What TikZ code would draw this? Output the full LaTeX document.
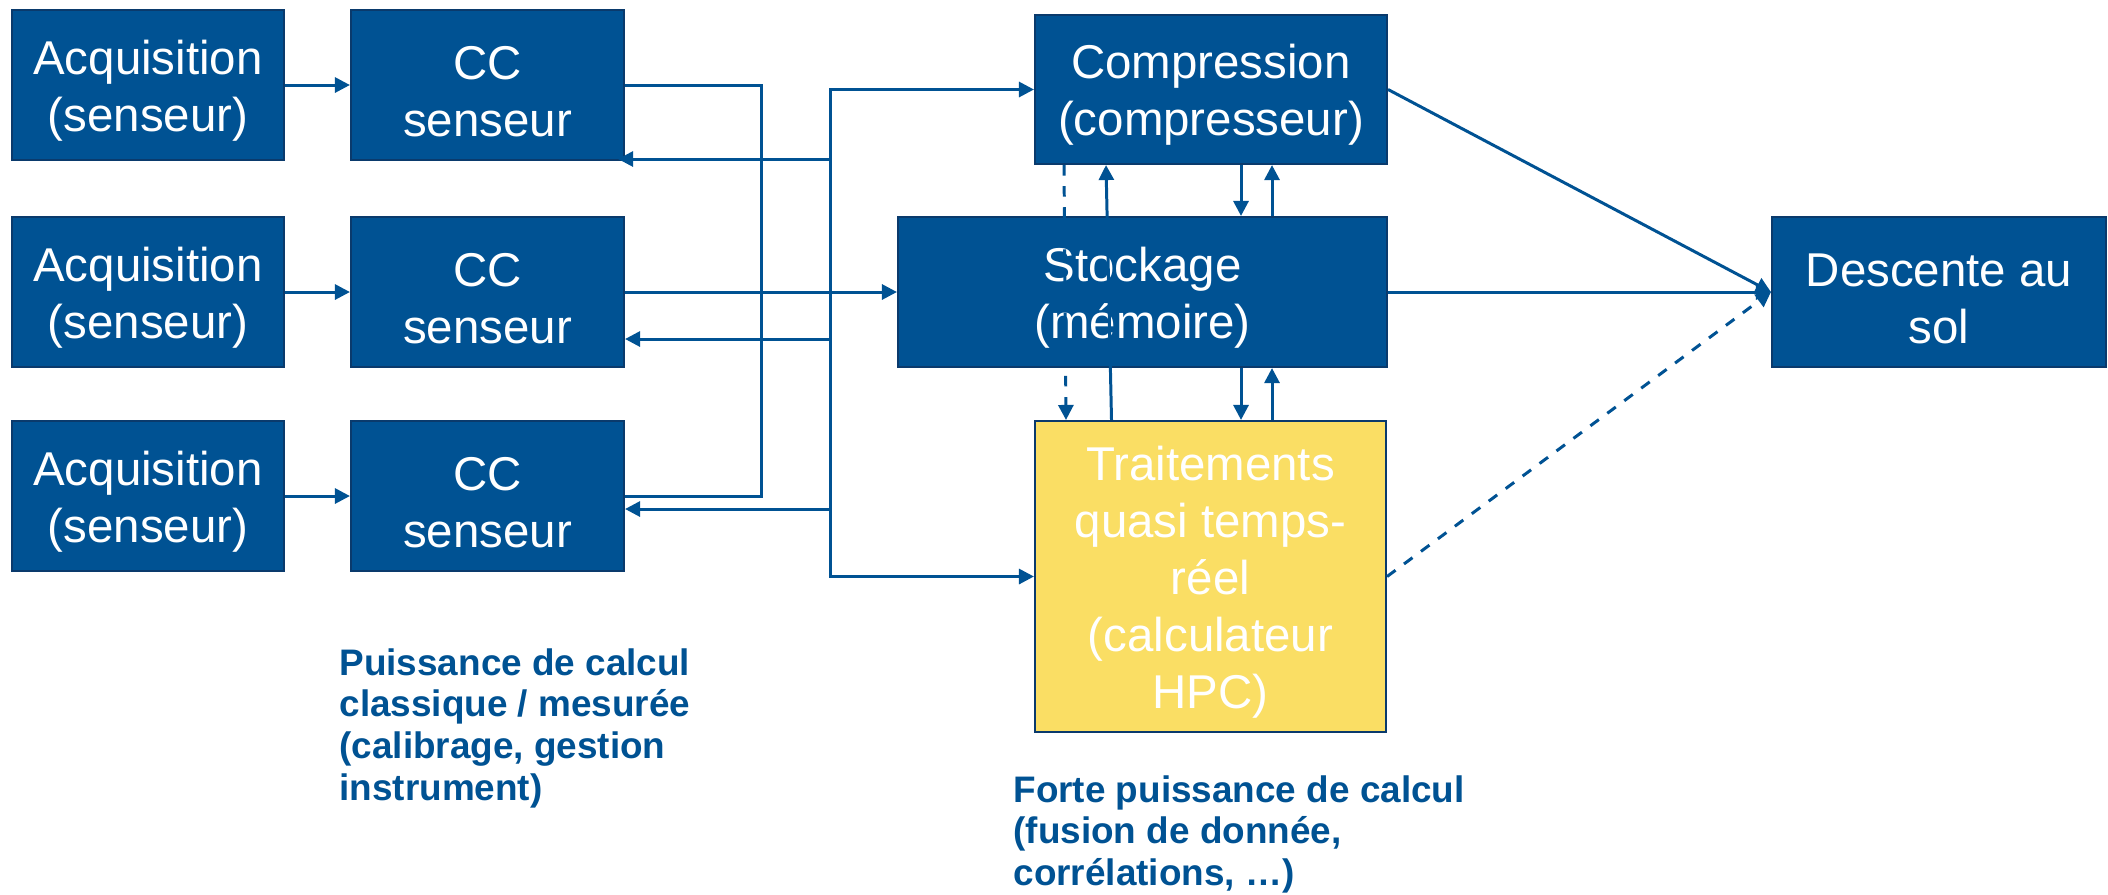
\documentclass[tikz,border=0pt]{standalone}
\usepackage{fontspec}
\setmainfont{Liberation Sans}
\usepackage{tikz}
\usetikzlibrary{arrows.meta, positioning}
\definecolor{cblue}{RGB}{0,82,147}
\definecolor{cedge}{RGB}{10,58,108}
\definecolor{cyel}{RGB}{250,222,100}
\newcommand{\hstrut}{\rule{0pt}{0.96em}}
\tikzstyle{box}=[rectangle, draw=cedge, line width=0.6pt, fill=cblue, text=white, align=center, inner sep=0pt, font=\fontsize{13.5}{16.2}\selectfont]
\tikzstyle{lbl}=[text=cblue, align=left, inner sep=0pt, anchor=north west, font=\bfseries\fontsize{10.5}{11.85}\selectfont]
\tikzstyle{arr}=[-{Triangle[length=0.15cm,width=0.15cm]}]

\begin{document}
\begin{tikzpicture}[cblue, line width=0.85pt]
	\useasboundingbox (0,0) rectangle (21.08,-8.94);
	% capteurs
	\node[box, minimum width=2.72cm, minimum height=1.5cm] (a1) at (1.48,-0.85) {\hstrut Acquisition\\(senseur)};
	\node[box, minimum width=2.72cm, minimum height=1.5cm] (a2) at (1.48,-2.92) {\hstrut Acquisition\\(senseur)};
	\node[box, minimum width=2.72cm, minimum height=1.5cm] (a3) at (1.48,-4.96) {\hstrut Acquisition\\(senseur)};
	\node[box, minimum width=2.73cm, minimum height=1.5cm] (c1) at (4.875,-0.85) {\hstrut CC\\senseur};
	\node[box, minimum width=2.73cm, minimum height=1.5cm] (c2) at (4.875,-2.92) {\hstrut CC\\senseur};
	\node[box, minimum width=2.73cm, minimum height=1.5cm] (c3) at (4.875,-4.96) {\hstrut CC\\senseur};
	% bord
	\node[box, minimum width=3.52cm, minimum height=1.49cm] (comp) at (12.11,-0.895) {\hstrut Compression\\(compresseur)};
	\node[box, minimum width=4.89cm, minimum height=1.5cm] (stock) at (11.425,-2.92) {\hstrut Stockage\\(mémoire)};
	\node[box, fill=cyel, minimum width=3.51cm, minimum height=3.11cm] (trait) at (12.105,-5.765) {\hstrut Traitements\\quasi temps-\\réel\\(calculateur\\HPC)};
	\node[box, minimum width=3.34cm, minimum height=1.5cm] (desc) at (19.39,-2.92) {\hstrut Descente au\\sol};
	\node[lbl] (l1) at (3.38,-6.47) {Puissance de calcul\\classique / mesurée\\(calibrage, gestion\\instrument)};
	\node[lbl] (l2) at (10.12,-7.74) {Forte puissance de calcul\\(fusion de donnée,\\corrélations, …)};
	\coordinate (bl) at (7.61,-2.92);
	\coordinate (rt) at (8.30,-0.895);
	\coordinate (rb) at (8.30,-5.765);
	\coordinate (r1) at (8.30,-1.59);
	\coordinate (r2) at (8.30,-3.39);
	\coordinate (r3) at (8.30,-5.09);
	\draw [arr] (a1) to (c1);
	\draw [arr] (a2) to (c2);
	\draw [arr] (a3) to (c3);
	\draw (c1) -| (bl);
	\draw (c3) -| (bl);
	\draw [arr] (c2) to (stock);
	\draw [arr] (rb) |- (comp);
	\draw [arr] (rt) |- (trait);
	\draw [arr] (r1) to ([xshift=-0.07cm]r1 -| c1.east);
	\draw [arr] (r2) to (r2 -| c2.east);
	\draw [arr] (r3) to (r3 -| c3.east);
	\draw [arr] ([xshift=0.30cm]comp.south) to ([xshift=0.30cm]comp.south |- stock.north);
	\draw [arr] ([xshift=0.61cm]comp.south |- stock.north) to ([xshift=0.61cm]comp.south);
	\draw [arr] ([xshift=0.30cm]comp.south |- stock.south) to ([xshift=0.30cm]comp.south |- trait.north);
	\draw [arr] ([xshift=0.61cm]comp.south |- trait.north) to ([xshift=0.61cm]comp.south |- stock.south);
	\draw [arr, dashed] ([xshift=-1.47cm]comp.south) to ([xshift=-1.45cm]comp.south |- trait.north);
	\draw [arr] ([xshift=-0.99cm]trait.north) to ([xshift=-1.05cm]comp.south);
	\draw [arr] (comp.east) to (desc.west);
	\draw [arr] (stock) to (desc);
	\draw [arr, dashed] (trait.east) to (desc.west);
\end{tikzpicture}
\end{document}
